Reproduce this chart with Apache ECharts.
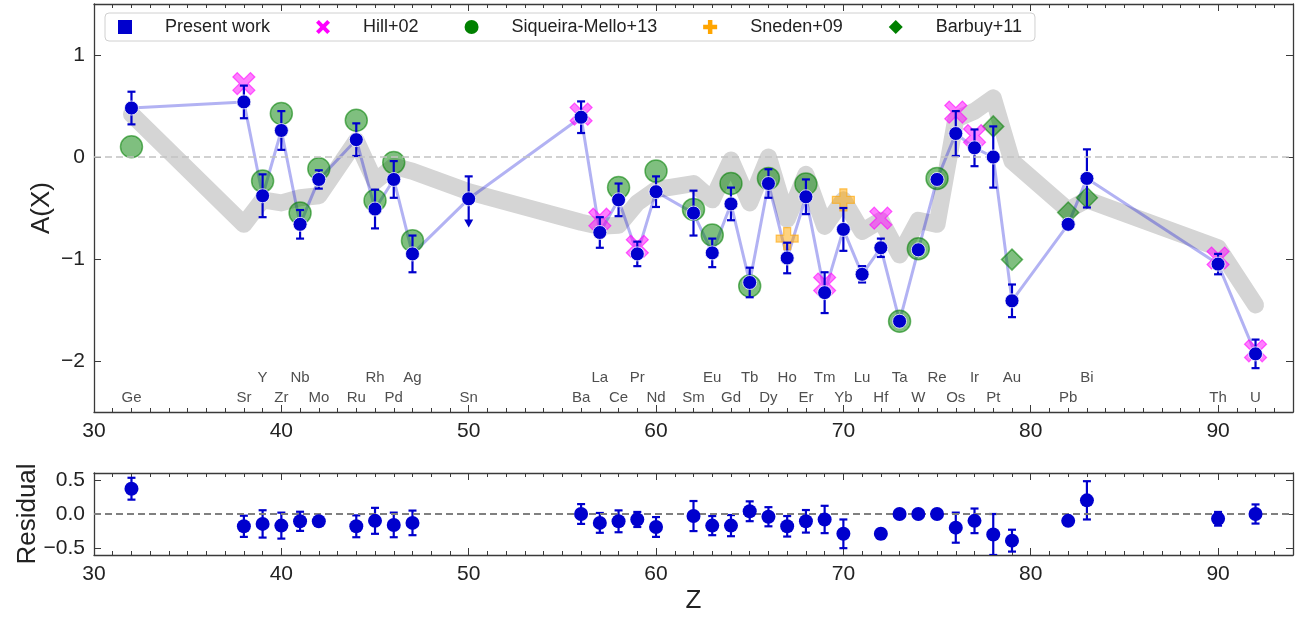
<!DOCTYPE html>
<html>
<head>
<meta charset="utf-8">
<script src="https://cdn.jsdelivr.net/npm/echarts@6/dist/echarts.min.js"></script>
<style>
html,body{margin:0;padding:0;background:#fff;}
#chart{width:1301px;height:617px;}
</style>
</head>
<body>
<div id="chart"></div>
<script>
// present work
var zPresent = [32,38,39,40,41,42,44,45,46,47,50,56,57,58,59,60,62,63,64,65,66,67,68,69,70,71,72,73,74,75,76,77,78,79,82,83,90,92];
var elements = ['Ge','Sr','Y','Zr','Nb','Mo','Ru','Rh','Pd','Ag','Sn','Ba','La','Ce','Pr','Nd','Sm','Eu','Gd','Tb','Dy','Ho','Er','Tm','Yb','Lu','Hf','Ta','W','Re','Os','Ir','Pt','Au','Pb','Bi','Th','U'];
var presentAbund = [0.48,0.54,-0.38,0.26,-0.66,-0.22,0.17,-0.51,-0.22,-0.95,-0.41,0.39,-0.74,-0.42,-0.95,-0.34,-0.55,-0.94,-0.46,-1.23,-0.26,-0.99,-0.39,-1.33,-0.71,-1.15,-0.89,-1.61,-0.91,-0.22,0.23,0.09,0.0,-1.41,-0.66,-0.21,-1.05,-1.93];
var presentErr = [0.16,0.16,0.21,0.19,0.14,0.09,0.16,0.19,0.18,0.18,0.22,0.155,0.15,0.16,0.12,0.15,0.22,0.14,0.16,0.145,0.14,0.15,0.17,0.2,0.21,0.08,0.09,0,0,0,0.22,0.18,0.3,0.16,0,0.285,0.1,0.14];
// upper limits (arrow length below the point)
var limitZ = [50];
var limitDrop = [0.28];

// scaled solar r-process pattern
var solarZ = [32,38,39,40,41,42,44,45,46,47,50,56,57,58,59,60,62,63,64,65,66,67,68,69,70,71,72,73,74,75,76,77,78,79,82,83,90,92];
var solarR = [0.42,-0.66,-0.42,-0.45,-0.40,-0.38,0.16,-0.24,-0.09,-0.14,-0.34,-0.64,-0.68,-0.67,-0.45,-0.32,-0.26,-0.42,-0.03,-0.45,0.0,-0.61,-0.17,-0.68,-0.42,-0.73,-0.62,-0.96,-0.62,-0.66,0.37,0.45,0.58,-0.04,-0.52,-0.42,-0.89,-1.45];

// literature
var hillZ = [38,56,57,59,69,72,76,77,90,92];
var hillAbund = [0.72,0.42,-0.61,-0.875,-1.245,-0.60,0.44,0.21,-0.99,-1.90];
var siqZ = [32,39,40,41,42,44,45,46,47,58,60,62,63,64,65,66,68,73,74,75];
var siqAbund = [0.10,-0.236,0.426,-0.55,-0.115,0.36,-0.426,-0.055,-0.82,-0.30,-0.138,-0.514,-0.765,-0.26,-1.265,-0.21,-0.265,-1.61,-0.90,-0.21];
var snedenZ = [67,70];
var snedenAbund = [-0.80,-0.42];
var barbuyZ = [78,79,82,83];
var barbuyAbund = [0.30,-1.006,-0.545,-0.40];

// residuals
var residZ = [32,38,39,40,41,42,44,45,46,47,56,57,58,59,60,62,63,64,65,66,67,68,69,70,72,73,74,75,76,77,78,79,82,83,90,92];
var residVal = [0.37,-0.18,-0.145,-0.17,-0.107,-0.107,-0.18,-0.1,-0.16,-0.13,0.0,-0.13,-0.107,-0.08,-0.19,-0.03,-0.17,-0.17,0.04,-0.04,-0.18,-0.107,-0.08,-0.29,-0.29,0.0,0.0,0.0,-0.2,-0.1,-0.3,-0.39,-0.1,0.2,-0.07,0.0];
var residErr = [0.16,0.155,0.2,0.19,0.14,0.05,0.16,0.19,0.18,0.18,0.145,0.145,0.16,0.11,0.145,0.22,0.14,0.155,0.145,0.14,0.15,0.165,0.2,0.21,0.07,0,0,0,0.22,0.18,0.3,0.16,0,0.28,0.1,0.14];

var FONT = 'Liberation Sans, Arial, Helvetica, sans-serif';
var BLUE = '#0000cd';
var AXIS = '#3a3a3a';
var X_MARK = 'path://M2,0 L5,3 L8,0 L10,2 L7,5 L10,8 L8,10 L5,7 L2,10 L0,8 L3,5 L0,2 Z';
var P_MARK = 'path://M3.4,0 L6.6,0 L6.6,3.4 L10,3.4 L10,6.6 L6.6,6.6 L6.6,10 L3.4,10 L3.4,6.6 L0,6.6 L0,3.4 L3.4,3.4 Z';

function pairs(xs, ys) {
    return xs.map(function (x, i) { return [x, ys[i]]; });
}
function minusSign(s) { return String(s).replace('-', '\u2212'); }

function errBarItem(params, api) {
    var z = api.value(0), v = api.value(1), err = api.value(2), drop = api.value(3);
    if (!err) return {type: 'group', children: []};
    var top = api.coord([z, v + err]);
    var bot = api.coord([z, v - (drop || err)]);
    var st = {stroke: BLUE, lineWidth: 2.2, fill: null};
    var kids = [
        {type: 'line', shape: {x1: top[0], y1: top[1], x2: bot[0], y2: bot[1] - (drop ? 7 : 0)}, style: st},
        {type: 'line', shape: {x1: top[0] - 4, y1: top[1], x2: top[0] + 4, y2: top[1]}, style: st}
    ];
    if (drop) {
        kids.push({type: 'polygon', shape: {points: [[bot[0] - 4.5, bot[1] - 8], [bot[0] + 4.5, bot[1] - 8], [bot[0], bot[1]]]}, style: {fill: BLUE}});
    } else {
        kids.push({type: 'line', shape: {x1: bot[0] - 4, y1: bot[1], x2: bot[0] + 4, y2: bot[1]}, style: st});
    }
    return {type: 'group', children: kids};
}

var presentBars = zPresent.map(function (z, i) {
    var k = limitZ.indexOf(z);
    return [z, presentAbund[i], presentErr[i], k >= 0 ? limitDrop[k] : 0];
});
var residBars = residZ.map(function (z, i) { return [z, residVal[i], residErr[i], 0]; });
var elementLabels = zPresent.map(function (z, i) {
    return {value: [z, z % 2 ? -2.163 : -2.36], name: elements[i]};
});

function xAxes(grid, pos, major, withLabel, name) {
    var ax = {
        type: 'value', gridIndex: grid, position: pos, min: 30, max: 94,
        interval: major ? 10 : 1,
        axisLine: {show: major, onZero: false, lineStyle: {color: AXIS, width: 1.3}},
        axisTick: {show: true, inside: true, length: major ? 7 : 4, lineStyle: {color: AXIS, width: 1}},
        axisLabel: {show: withLabel, fontSize: 21, color: '#222', fontFamily: FONT, margin: 9, showMaxLabel: false},
        splitLine: {show: false}
    };
    if (name) {
        ax.name = name; ax.nameLocation = 'middle'; ax.nameGap = 33; ax.nameMoveOverlap = false;
        ax.nameTextStyle = {fontSize: 26, color: '#222', fontFamily: FONT};
    }
    return ax;
}
function yAxis(grid, pos, min, max, ticks, fmt, name, gap) {
    var ax = {
        type: 'value', gridIndex: grid, position: pos, min: min, max: max,
        axisLine: {show: true, onZero: false, lineStyle: {color: AXIS, width: 1.3}},
        axisTick: {show: true, inside: true, length: 7, customValues: ticks, lineStyle: {color: AXIS, width: 1}},
        axisLabel: {show: pos === 'left', customValues: ticks, fontSize: 21, color: '#222', fontFamily: FONT, margin: 9, formatter: fmt},
        splitLine: {show: false}
    };
    if (name) {
        ax.name = name; ax.nameLocation = 'middle'; ax.nameGap = gap; ax.nameRotate = 90;
        ax.nameMoveOverlap = false;
        ax.nameTextStyle = {fontSize: 26, color: '#222', fontFamily: FONT};
    }
    return ax;
}

var chart = echarts.init(document.getElementById('chart'));
chart.setOption({
    animation: false,
    backgroundColor: '#fff',
    grid: [
        {left: 94, right: 8, top: 4, height: 408},
        {left: 94, right: 8, top: 473, height: 82}
    ],
    legend: {
        left: 105, top: 13, orient: 'horizontal', selectedMode: false,
        padding: [5, 13, 5, 13], itemGap: 46, itemWidth: 14, itemHeight: 14,
        backgroundColor: '#fff', borderColor: '#d0d0d0', borderWidth: 1, borderRadius: 4,
        textStyle: {fontSize: 18, color: '#222', fontFamily: FONT, padding: [0, 0, 0, 28]},
        data: [
            {name: 'Present work', icon: 'rect', itemStyle: {color: BLUE, opacity: 1, borderWidth: 0}},
            {name: 'Hill+02', icon: X_MARK, itemStyle: {color: '#ff00ff', opacity: 1, borderWidth: 0}},
            {name: 'Siqueira-Mello+13', icon: 'circle', itemStyle: {color: '#008000', opacity: 1, borderWidth: 0}},
            {name: 'Sneden+09', icon: P_MARK, itemStyle: {color: '#ffa500', opacity: 1, borderWidth: 0}},
            {name: 'Barbuy+11', icon: 'diamond', itemStyle: {color: '#008000', opacity: 1, borderWidth: 0}}
        ]
    },
    xAxis: [
        xAxes(0, 'bottom', true, true),
        xAxes(0, 'bottom', false, false),
        xAxes(0, 'top', true, false),
        xAxes(0, 'top', false, false),
        xAxes(1, 'bottom', true, true, 'Z'),
        xAxes(1, 'bottom', false, false),
        xAxes(1, 'top', true, false),
        xAxes(1, 'top', false, false)
    ],
    yAxis: [
        yAxis(0, 'left', -2.5, 1.5, [-2, -1, 0, 1], function (v) { return minusSign(v); }, 'A(X)', 39),
        yAxis(0, 'right', -2.5, 1.5, [-2, -1, 0, 1]),
        yAxis(1, 'left', -0.6, 0.6, [-0.5, 0, 0.5], function (v) { return minusSign(v.toFixed(1)); }, 'Residual', 53),
        yAxis(1, 'right', -0.6, 0.6, [-0.5, 0, 0.5])
    ],
    series: [
        {
            name: 'solar r', type: 'line', xAxisIndex: 0, yAxisIndex: 0, z: 1, silent: true,
            data: pairs(solarZ, solarR), showSymbol: false, symbol: 'none',
            lineStyle: {color: '#d5d5d5', width: 17, cap: 'round', join: 'round'},
            markLine: {
                silent: true, symbol: ['none', 'none'], label: {show: false},
                lineStyle: {color: '#c2c2c2', width: 1.5, type: [7, 4]},
                data: [{yAxis: 0}]
            }
        },
        {
            name: 'present line', type: 'line', xAxisIndex: 0, yAxisIndex: 0, z: 2, silent: true,
            data: pairs(zPresent, presentAbund), showSymbol: false, symbol: 'none',
            lineStyle: {color: 'rgba(0,0,215,0.3)', width: 3, join: 'round'}
        },
        {
            name: 'Siqueira-Mello+13', type: 'scatter', xAxisIndex: 0, yAxisIndex: 0, z: 3,
            data: pairs(siqZ, siqAbund), symbol: 'circle', symbolSize: 22,
            itemStyle: {color: 'rgba(0,128,0,0.5)', borderColor: 'rgba(0,128,0,0.55)', borderWidth: 1.5, opacity: 1}
        },
        {
            name: 'Barbuy+11', type: 'scatter', xAxisIndex: 0, yAxisIndex: 0, z: 3,
            data: pairs(barbuyZ, barbuyAbund), symbol: 'diamond', symbolSize: 21,
            itemStyle: {color: 'rgba(0,128,0,0.5)', borderColor: 'rgba(0,128,0,0.55)', borderWidth: 1.5, opacity: 1}
        },
        {
            name: 'Hill+02', type: 'scatter', xAxisIndex: 0, yAxisIndex: 0, z: 3,
            data: pairs(hillZ, hillAbund), symbol: X_MARK, symbolSize: 22,
            itemStyle: {color: 'rgba(255,0,255,0.5)', borderColor: 'rgba(255,0,255,0.6)', borderWidth: 1.2, opacity: 1}
        },
        {
            name: 'Sneden+09', type: 'scatter', xAxisIndex: 0, yAxisIndex: 0, z: 3,
            data: pairs(snedenZ, snedenAbund), symbol: P_MARK, symbolSize: 22,
            itemStyle: {color: 'rgba(255,165,0,0.5)', borderColor: 'rgba(255,165,0,0.6)', borderWidth: 1.2, opacity: 1}
        },
        {
            name: 'present err', type: 'custom', xAxisIndex: 0, yAxisIndex: 0, z: 4, silent: true,
            renderItem: errBarItem, data: presentBars
        },
        {
            name: 'Present work', type: 'scatter', xAxisIndex: 0, yAxisIndex: 0, z: 5,
            data: pairs(zPresent, presentAbund), symbol: 'circle', symbolSize: 14,
            itemStyle: {color: BLUE, borderColor: '#fff', borderWidth: 0.8, opacity: 1}
        },
        {
            name: 'elements', type: 'scatter', xAxisIndex: 0, yAxisIndex: 0, z: 6, silent: true,
            data: elementLabels, symbolSize: 0,
            label: {show: true, position: 'inside', formatter: '{b}', fontSize: 15, color: '#222', fontFamily: FONT}
        },
        {
            name: 'resid err', type: 'custom', xAxisIndex: 4, yAxisIndex: 2, z: 4, silent: true, clip: true,
            renderItem: errBarItem, data: residBars,
            markLine: {
                silent: true, symbol: ['none', 'none'], label: {show: false},
                lineStyle: {color: '#808080', width: 2, type: [7, 4]},
                data: [{yAxis: 0}]
            }
        },
        {
            name: 'residual', type: 'scatter', xAxisIndex: 4, yAxisIndex: 2, z: 5,
            data: pairs(residZ, residVal), symbol: 'circle', symbolSize: 14,
            itemStyle: {color: BLUE, opacity: 1}
        }
    ]
});
</script>
</body>
</html>
